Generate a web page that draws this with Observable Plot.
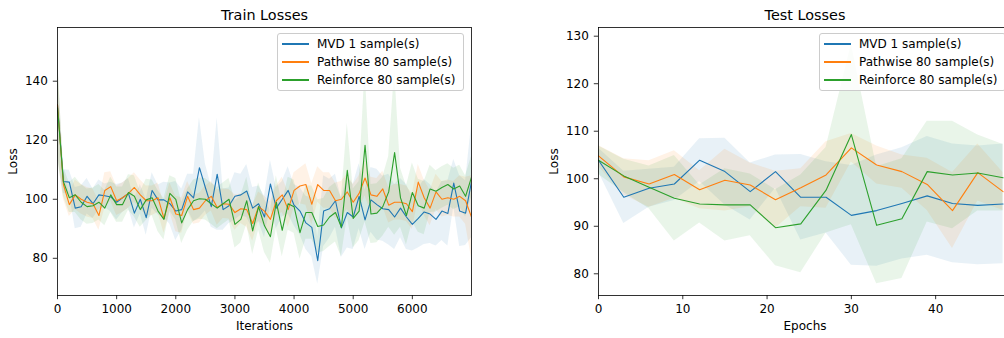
<!DOCTYPE html>
<html><head><meta charset="utf-8">
<script src="https://cdn.jsdelivr.net/npm/d3@7"></script>
<script src="https://cdn.jsdelivr.net/npm/@observablehq/plot@0.6"></script>
<style>
html,body{margin:0;padding:0;background:#fff;overflow:hidden;}
#wrap{position:relative;width:1004px;height:338px;overflow:hidden;font-family:"DejaVu Sans",sans-serif;}
.panel{position:absolute;top:0;}
.legend{position:absolute;top:33px;width:187px;height:58px;border:1px solid #cccccc;border-radius:3px;background:rgba(255,255,255,0.8);box-sizing:border-box;font-size:12px;color:#000;}
.row{position:absolute;left:0;height:18px;width:100%;}
.sw{position:absolute;left:4px;top:8px;width:27px;height:2px;}
.lb{position:absolute;left:39px;top:0;line-height:18px;white-space:nowrap;}
</style></head>
<body><div id="wrap"></div>
<script>
const seriesNames = ["MVD 1 sample(s)", "Pathwise 80 sample(s)", "Reinforce 80 sample(s)"];
const colors = ["#1f77b4", "#ff7f0e", "#2ca02c"];

const iterations = [0,100,200,300,400,500,600,700,800,900,1000,1100,1200,1300,1400,1500,1600,1700,1800,1900,2000,2100,2200,2300,2400,2500,2600,2700,2800,2900,3000,3100,3200,3300,3400,3500,3600,3700,3800,3900,4000,4100,4200,4300,4400,4500,4600,4700,4800,4900,5000,5100,5200,5300,5400,5500,5600,5700,5800,5900,6000,6100,6200,6300,6400,6500,6600,6700,6800,6900,7000];

const trainMVD = [132,106,105.8,97,97.5,101,98.5,101.5,101.2,100.8,
 99,100.5,102,95.3,100,93.8,103,99.8,99.8,98.5,
 96,96.5,102.5,100.5,110.7,104,97.5,108.5,96.5,97.8,
 101,101.5,102.8,97,98.5,94,105.2,97,100,103,
 98,96,92,90.5,79.2,96,96.8,99.5,90.3,95.5,
 94,101,93,99.8,98.2,96.8,96.5,94,97,94,
 91.5,93.5,95.7,95,93.2,96,95.2,105.5,96,95.3,
 106];
const trainMVDStd = [17,4,4,7,7,6,5,5,4,5,
 6,5,5,5,5,6,6,5,6,7,
 10,7,6,8,17,8,7,19,7,6,
 8,7,9,7,6,7,8,7,6,8,
 7,8,9,10,8,12,10,9,10,12,
 11,11,10,11,12,11,12,11,10,11,
 9,10,11,10,9,10,11,8,12,11,
 19];
const trainPathwise = [132,105,98.2,101.5,100,99,98.5,94.5,103,104.3,
 99.5,100.5,102,104,101.5,99.5,99.5,100.5,93.5,100.5,
 95,94.5,101,96.5,97,99.5,101,97.2,98.5,98.3,
 95.5,96.8,96.5,91.8,97.5,96,93.2,99.5,101.5,96.5,
 103,104.5,105,98.3,105,103,103,99.5,100,102.5,
 99,102,107.2,101.5,101,103.5,98,99,99,98.5,
 95.8,105.8,100.5,97,102.5,100,100.5,100,101,99.5,
 94];
const trainPathwiseStd = [17,5,4,5,5,5,5,5,6,5,
 5,5,5,5,5,5,5,5,5,5,
 6,6,5,5,5,5,5,6,5,5,
 6,5,6,6,5,5,6,5,6,6,
 6,6,7,7,6,6,6,6,6,6,
 6,6,6,6,6,6,6,6,6,6,
 6,6,6,6,6,6,6,6,7,8,
 14];
const trainReinforce = [131,106,100.5,101.5,99,97.5,97.8,99,97,101.5,
 98.2,98.2,102.3,101,96.5,99.8,100.5,96,93.2,102,
 100,92,96.5,99.5,100.2,100,98.5,97,98.5,100,
 91.5,93.2,99.5,89.3,97.5,91,87.3,99,89.5,98.5,
 97.5,88.7,95.5,95.5,90.8,91.3,94,95.5,90.5,109.8,
 93.5,96,118.3,95,95.3,97.5,102.5,115.8,100.5,94.5,
 102.3,97.8,97,103.5,102.7,104,105,103.5,104.5,101,
 107.5];
const trainReinforceStd = [17,5,5,6,6,6,6,6,6,6,
 6,6,6,7,6,7,6,7,7,6,
 7,7,7,7,7,7,7,7,7,7,
 8,8,8,8,8,9,9,9,9,9,
 9,9,9,9,9,9,10,10,10,16,
 10,10,26,10,10,10,12,28,10,10,
 10,9,9,8,7,7,7,7,7,7,
 7];

const epochs = [0,3,6,9,12,15,18,21,24,27,30,33,36,39,42,45,48];
const testMVD = [103.9,96.1,98.0,98.9,103.9,101.5,97.3,101.5,96.1,96.1,92.3,93.3,94.8,96.4,94.8,94.4,94.7];
const testMVDStd = [2.5,5.5,4,3.5,4.5,7,6,3.5,9,7.5,10.5,11.7,11.7,12.5,12.5,12.5,12.6];
const testPathwise = [104.8,100.4,98.9,100.9,97.7,99.7,98.7,95.6,98.1,100.8,106.5,102.9,101.5,98.8,93.3,101.3,97.3];
const testPathwiseStd = [2.2,3.8,4.9,5,4,6.5,4.6,6,4,7,3,4,3.5,5.5,8,6,4];
const testReinforce = [103.9,100.6,98.2,95.9,94.7,94.5,94.5,89.7,90.5,97.6,109.3,90.2,91.6,101.5,100.8,101.2,100.2];
const testReinforceStd = [3,3.5,4.5,9,4,7.6,6.5,8,10.3,9,19,12.3,12.6,10.6,11.3,8,7];

const trainXTicks = [0,1000,2000,3000,4000,5000,6000];
const trainYTicks = [80,100,120,140];
const testXTicks = [0,10,20,30,40];
const testYTicks = [80,90,100,110,120,130];

function rows(xs, means, stds) {
  return xs.map((x, i) => ({x, m: means[i], lo: means[i] - stds[i], hi: means[i] + stds[i]}));
}

function panel(o) {
  const marks = [];
  o.series.forEach((d, k) => marks.push(Plot.areaY(d, {x: "x", y1: "lo", y2: "hi", fill: colors[k], fillOpacity: 0.1, clip: true})));
  o.series.forEach((d, k) => marks.push(Plot.line(d, {x: "x", y: "m", stroke: colors[k], strokeWidth: 1.1, clip: true})));
  marks.push(Plot.frame({stroke: "black", strokeWidth: 0.8}));
  marks.push(Plot.axisX({ticks: o.xTicks, tickFormat: d => String(d), tickSize: 4.2, tickPadding: 4.5, label: null, strokeWidth: 0.8}));
  marks.push(Plot.axisY({ticks: o.yTicks, tickFormat: d => String(d), tickSize: 4.2, tickPadding: 5.5, label: null, strokeWidth: 0.8}));
  marks.push(Plot.text([o.title], {text: d => d, frameAnchor: "top", lineAnchor: "middle", dy: -12, fontSize: 14.4, fill: "black"}));
  marks.push(Plot.text([o.xLabel], {text: d => d, frameAnchor: "bottom", lineAnchor: "middle", dy: 31, fontSize: 12, fill: "black"}));
  marks.push(Plot.text(["Loss"], {text: d => d, frameAnchor: "left", textAnchor: "middle", lineAnchor: "middle", dx: -44, rotate: -90, fontSize: 12, fill: "black"}));
  return Plot.plot({
    width: o.width, height: 338,
    marginLeft: o.marginLeft, marginRight: o.marginRight, marginTop: 27, marginBottom: 43,
    style: {fontFamily: "DejaVu Sans, sans-serif", fontSize: "12px", color: "black", background: "transparent"},
    x: {domain: o.xDomain, label: null},
    y: {domain: o.yDomain, label: null},
    marks
  });
}

function legend(left) {
  const box = document.createElement("div");
  box.className = "legend";
  box.style.left = left + "px";
  seriesNames.forEach((name, k) => {
    const r = document.createElement("div");
    r.className = "row";
    r.style.top = (1 + k * 18) + "px";
    const sw = document.createElement("div");
    sw.className = "sw"; sw.style.background = colors[k];
    const lb = document.createElement("div");
    lb.className = "lb"; lb.textContent = name;
    r.appendChild(sw); r.appendChild(lb);
    box.appendChild(r);
  });
  return box;
}

const wrap = document.getElementById("wrap");

const left = panel({
  width: 540, marginLeft: 57, marginRight: 69,
  xDomain: [0, 7000], yDomain: [67.4, 158.2],
  xTicks: trainXTicks, yTicks: trainYTicks,
  title: "Train Losses", xLabel: "Iterations",
  series: [rows(iterations, trainMVD, trainMVDStd), rows(iterations, trainPathwise, trainPathwiseStd), rows(iterations, trainReinforce, trainReinforceStd)]
});
left.classList.add("panel"); left.style.left = "0px";
wrap.appendChild(left);

const right = panel({
  width: 484, marginLeft: 58, marginRight: 13,
  xDomain: [0, 49], yDomain: [75.43, 131.83],
  xTicks: testXTicks, yTicks: testYTicks,
  title: "Test Losses", xLabel: "Epochs",
  series: [rows(epochs, testMVD, testMVDStd), rows(epochs, testPathwise, testPathwiseStd), rows(epochs, testReinforce, testReinforceStd)]
});
right.classList.add("panel"); right.style.left = "540px";
wrap.appendChild(right);

wrap.appendChild(legend(277));
wrap.appendChild(legend(819));
</script>
</body></html>
